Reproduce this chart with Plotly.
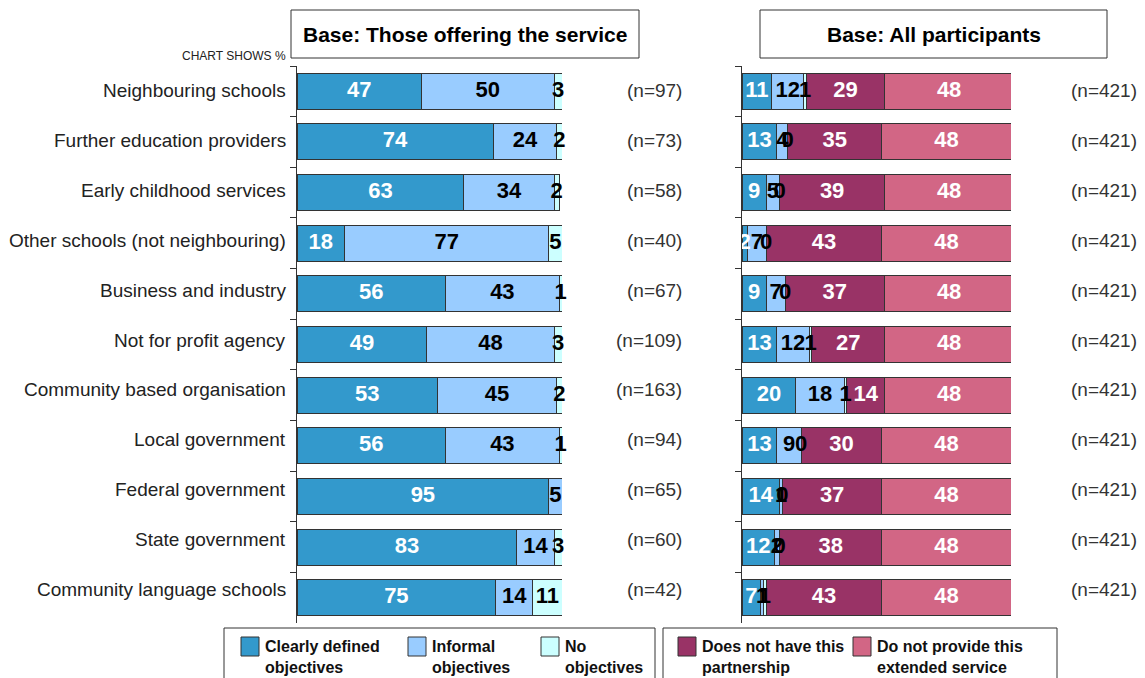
import plotly.graph_objects as go

categories = ["Neighbouring schools", "Further education providers", "Early childhood services",
              "Other schools (not neighbouring)", "Business and industry", "Not for profit agency",
              "Community based organisation", "Local government", "Federal government",
              "State government", "Community language schools"]

# Left panel: base those offering the service
left_clear = [47, 74, 63, 18, 56, 49, 53, 56, 95, 83, 75]
left_informal = [50, 24, 34, 77, 43, 48, 45, 43, 5, 14, 14]
left_none = [3, 2, 2, 5, 1, 3, 2, 1, 0, 3, 11]
left_n = ["(n=97)", "(n=73)", "(n=58)", "(n=40)", "(n=67)", "(n=109)", "(n=163)",
          "(n=94)", "(n=65)", "(n=60)", "(n=42)"]

# Right panel: base all participants
right_clear = [11, 13, 9, 2, 9, 13, 20, 13, 14, 12, 7]
right_informal = [12, 4, 5, 7, 7, 12, 18, 9, 1, 2, 1]
right_none = [1, 0, 0, 0, 0, 1, 1, 0, 0, 0, 1]
right_nothave = [29, 35, 39, 43, 37, 27, 14, 30, 37, 38, 43]
right_noprovide = [48, 48, 48, 48, 48, 48, 48, 48, 48, 48, 48]
right_n = ["(n=421)"] * 11

C_CLEAR = "#3399CC"
C_INF = "#99CCFF"
C_NONE = "#CCFFFF"
C_NOTHAVE = "#993366"
C_NOPROV = "#D26685"

FONT = "Liberation Sans, Arial, sans-serif"
W, H = 1145, 678


def px(x):
    return x / W


def py(y):
    return 1 - y / H


fig = go.Figure()


def add_stack(series, colors, txtcolors, xa, ya, show_zero):
    cum = [0.0] * len(categories)
    for vals, col, tcol in zip(series, colors, txtcolors):
        fig.add_trace(go.Bar(
            y=categories, x=vals, base=cum[:], orientation="h", width=0.71,
            marker=dict(color=col, line=dict(color="#333333", width=1)),
            xaxis=xa, yaxis=ya, showlegend=False, hoverinfo="skip"))
        xs, ys, ts = [], [], []
        for i, v in enumerate(vals):
            if v > 0 or show_zero:
                xs.append(cum[i] + v / 2)
                ys.append(categories[i])
                ts.append(str(v))
        fig.add_trace(go.Scatter(
            x=xs, y=ys, text=ts, mode="text", xaxis=xa, yaxis=ya,
            textfont=dict(family=FONT, size=22, color=tcol, weight="bold"),
            textposition="middle center", showlegend=False, hoverinfo="skip", cliponaxis=False))
        cum = [c + v for c, v in zip(cum, vals)]


add_stack([left_clear, left_informal, left_none], [C_CLEAR, C_INF, C_NONE],
          ["white", "black", "black"], "x", "y", False)
add_stack([right_clear, right_informal, right_none, right_nothave, right_noprovide],
          [C_CLEAR, C_INF, C_NONE, C_NOTHAVE, C_NOPROV],
          ["white", "black", "black", "white", "white"], "x2", "y2", True)

ydom = [py(623), py(66)]
yax_common = dict(domain=ydom, type="category", categoryorder="array", categoryarray=categories,
                  range=[10.5, -0.5], showline=True, linecolor="#333333", linewidth=1,
                  ticks="outside", ticklen=6, tickcolor="#333333", tickson="boundaries",
                  showticklabels=False, showgrid=False, zeroline=False)

fig.update_layout(
    width=W, height=H, margin=dict(l=0, r=0, t=0, b=0),
    paper_bgcolor="white", plot_bgcolor="white", barmode="stack", bargap=0.29,
    xaxis=dict(domain=[px(297), px(562)], range=[0, 100], visible=False),
    xaxis2=dict(domain=[px(742), px(1011)], range=[0, 100], visible=False),
    yaxis=dict(anchor="x", **yax_common),
    yaxis2=dict(anchor="x2", **yax_common),
    font=dict(family=FONT),
)

annotations = []
for i, cat in enumerate(categories):
    ly = 91 + i * 49.8
    annotations.append(dict(x=px(288), y=py(ly), xref="paper", yref="paper", text=cat, showarrow=False,
                            xanchor="right", yanchor="middle",
                            font=dict(family=FONT, size=19, color="#222222")))
    annotations.append(dict(x=px(684), y=py(ly), xref="paper", yref="paper", text=left_n[i], showarrow=False,
                            xanchor="right", yanchor="middle",
                            font=dict(family=FONT, size=19, color="#333333")))
    annotations.append(dict(x=px(1139), y=py(ly), xref="paper", yref="paper", text=right_n[i], showarrow=False,
                            xanchor="right", yanchor="middle",
                            font=dict(family=FONT, size=19, color="#333333")))

shapes = []
# header boxes
for (x0, x1, title) in [(291, 639, "Base: Those offering the service"), (760, 1107, "Base: All participants")]:
    shapes.append(dict(type="rect", xref="paper", yref="paper", x0=px(x0), x1=px(x1), y0=py(58), y1=py(10),
                       line=dict(color="#333333", width=1), fillcolor="white"))
    annotations.append(dict(x=px((x0 + x1) / 2), y=py(34), xref="paper", yref="paper", text="<b>" + title + "</b>",
                            showarrow=False, xanchor="center", yanchor="middle",
                            font=dict(family=FONT, size=21, color="black")))

annotations.append(dict(x=px(288), y=py(56), xref="paper", yref="paper", text="CHART SHOWS %",
                        showarrow=False, xanchor="right", yanchor="middle",
                        font=dict(family=FONT, size=12, color="#222222")))

# legend boxes
shapes.append(dict(type="rect", xref="paper", yref="paper", x0=px(224), x1=px(655), y0=py(690), y1=py(628),
                   line=dict(color="#333333", width=1), fillcolor="white"))
shapes.append(dict(type="rect", xref="paper", yref="paper", x0=px(663), x1=px(1057), y0=py(690), y1=py(628),
                   line=dict(color="#333333", width=1), fillcolor="white"))

legend_items = [
    (241, C_CLEAR, "Clearly defined<br>objectives"),
    (408, C_INF, "Informal<br>objectives"),
    (541, C_NONE, "No<br>objectives"),
    (678, C_NOTHAVE, "Does not have this<br>partnership"),
    (853, C_NOPROV, "Do not provide this<br>extended service"),
]
for (sx, col, label) in legend_items:
    shapes.append(dict(type="rect", xref="paper", yref="paper", x0=px(sx), x1=px(sx + 18), y0=py(656), y1=py(637),
                       line=dict(color="#333333", width=1), fillcolor=col))
    annotations.append(dict(x=px(sx + 22), y=py(636), xref="paper", yref="paper", text="<b>" + label + "</b>",
                            showarrow=False, xanchor="left", yanchor="top", align="left",
                            font=dict(family=FONT, size=16, color="#111111")))

fig.update_layout(annotations=annotations, shapes=shapes)
fig.write_html("out.html", config={"displayModeBar": False},
               post_script="document.body.style.margin='0';document.body.style.padding='0';")
